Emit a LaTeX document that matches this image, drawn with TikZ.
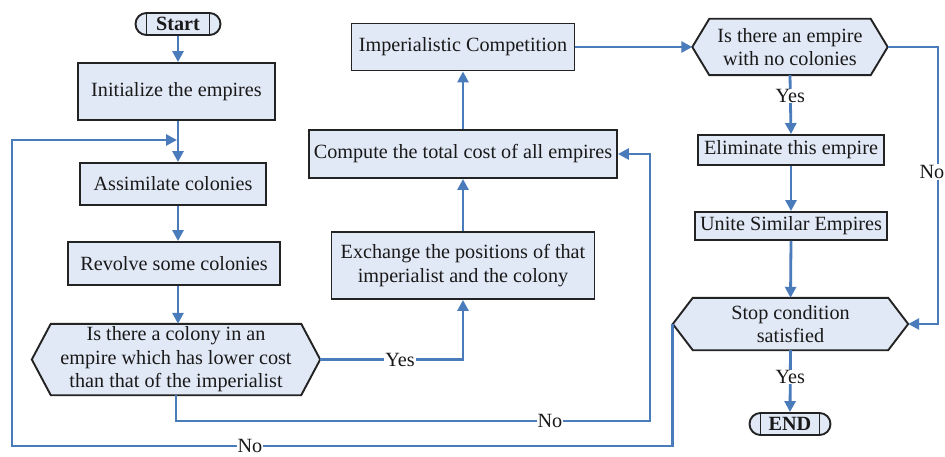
\documentclass[tikz,border=0pt]{standalone}
\usepackage{fontspec}
\setmainfont{Liberation Serif}
\usetikzlibrary{arrows.meta,calc,backgrounds}
\definecolor{lineblue}{RGB}{74,124,187}
\definecolor{boxfill}{RGB}{226,233,246}
\definecolor{boxdraw}{RGB}{35,35,35}
\begin{document}
\begin{tikzpicture}[x=1pt,y=-1pt,
  every node/.style={font=\fontsize{20.2}{23.5}\selectfont, text=black!90},
  proc/.style={draw=boxdraw, fill=boxfill, line width=1.9pt, align=center, inner sep=1pt},
  hexlabel/.style={align=center, inner sep=0pt},
  hexshape/.style={draw=boxdraw, fill=boxfill, line width=1.9pt, line join=miter},
  term/.style={draw=boxdraw, fill=boxfill, line width=1.9pt, rounded corners=11pt,
    font=\fontsize{20.2}{23.5}\selectfont\bfseries, inner sep=0pt},
  termline/.style={draw=boxdraw, line width=1.6pt},
  conn/.style={draw=lineblue, line width=2.8pt},
  arr/.style={conn, -{Triangle[length=11pt,width=11pt]}},
  lbl/.style={fill=white, inner xsep=1pt, inner ysep=0pt}]
\useasboundingbox (0,0) rectangle (945,457);

% nodes
\node[term, minimum width=85pt, minimum height=22pt] (start) at (178,24) {Start};
\draw[termline] ([xshift=12pt]start.north west) -- ([xshift=12pt]start.south west);
\draw[termline] ([xshift=-12pt]start.north east) -- ([xshift=-12pt]start.south east);

\node[proc, minimum width=197pt, minimum height=57pt] (init) at (176.5,91.5) {Initialize the empires};
\node[proc, minimum width=186pt, minimum height=42pt] (assim) at (173,184) {Assimilate colonies};
\node[proc, minimum width=212pt, minimum height=43pt] (revolve) at (174,263.5) {Revolve some colonies};
\node[hexlabel, minimum width=288pt, minimum height=71pt] (q1) at (176,359.5)
  {Is there a colony in an\\empire which has lower cost\\than that of the imperialist};

\node[proc, minimum width=263pt, minimum height=67pt] (exch) at (463,265.5)
  {Exchange the positions of that\\imperialist and the colony};
\node[proc, minimum width=308pt, minimum height=48pt] (comp) at (463,154) {Compute the total cost of all empires};
\node[proc, minimum width=223pt, minimum height=47pt] (imp) at (463,47) {Imperialistic Competition};

\node[hexlabel, minimum width=195pt, minimum height=56pt] (q2) at (790,47) {Is there an empire\\with no colonies};
\node[proc, minimum width=186pt, minimum height=30pt] (elim) at (791,150) {Eliminate this empire};
\node[proc, minimum width=192pt, minimum height=28pt] (unite) at (791,226) {Unite Similar Empires};
\node[hexlabel, minimum width=235pt, minimum height=52pt] (stop) at (790.5,324) {Stop condition\\satisfied};
\node[term, minimum width=81pt, minimum height=22pt] (end) at (790,424) {END};
\draw[termline] ([xshift=12pt]end.north west) -- ([xshift=12pt]end.south west);
\draw[termline] ([xshift=-12pt]end.north east) -- ([xshift=-12pt]end.south east);

% hexagon outlines behind their texts
\begin{scope}[on background layer]
\fill[white] (0,0) rectangle (945,457);
\path[hexshape] (q1.west) -- ($(q1.north west)+(19,0)$) -- ($(q1.north east)+(-19,0)$) -- (q1.east)
  -- ($(q1.south east)+(-19,0)$) -- ($(q1.south west)+(19,0)$) -- cycle;
\path[hexshape] (q2.west) -- ($(q2.north west)+(17,0)$) -- ($(q2.north east)+(-17,0)$) -- (q2.east)
  -- ($(q2.south east)+(-17,0)$) -- ($(q2.south west)+(17,0)$) -- cycle;
\path[hexshape] (stop.west) -- ($(stop.north west)+(20,0)$) -- ($(stop.north east)+(-20,0)$) -- (stop.east)
  -- ($(stop.south east)+(-20,0)$) -- ($(stop.south west)+(20,0)$) -- cycle;
\end{scope}

% helper coordinates
\coordinate (colL) at (178,0);
\coordinate (loopin) at (177,140);
\coordinate (loopul) at (12,140);
\coordinate (loopll) at (12,446);
\coordinate (loopbot) at (0,446);
\coordinate (inbot) at (650,421);
\coordinate (rr) at (938,47);

% connectors
\draw[arr] (start.south -| colL) -- (init.north -| colL);
\draw[arr] (init.south -| colL) -- (assim.north -| colL);
\draw[arr] (assim.south -| colL) -- (revolve.north -| colL);
\draw[arr] (revolve.south -| colL) -- (q1.north -| colL);

\draw[arr] (q1.east) -| (exch.south);
\node[lbl] at (400,360) {Yes};
\draw[arr] (exch.north) -- (comp.south);
\draw[arr] (comp.north) -- (imp.south);
\draw[arr] (imp.east) -- (q2.west);

\draw[arr] (q1.south) |- (inbot) |- (comp.east);
\node[lbl] at (550,421) {No};

\draw[arr] (stop.west) -- (stop.west |- loopbot) -- (loopll) -- (loopul) -- (loopin);
\node[lbl] at (250,446) {No};

\draw[arr] (q2.south) -- (elim.north) node[lbl, pos=0.35] {Yes};
\draw[arr] (elim.south) -- (unite.north);
\draw[arr] (unite.south) -- (stop.north);
\draw[arr] (q2.east) -- (rr) |- (stop.east);
\node[lbl, anchor=east, inner xsep=0.5pt, inner ysep=1pt] at (945,172) {No};
\draw[arr] (stop.south) -- (end.north) node[lbl, pos=0.43] {Yes};
\end{tikzpicture}
\end{document}
